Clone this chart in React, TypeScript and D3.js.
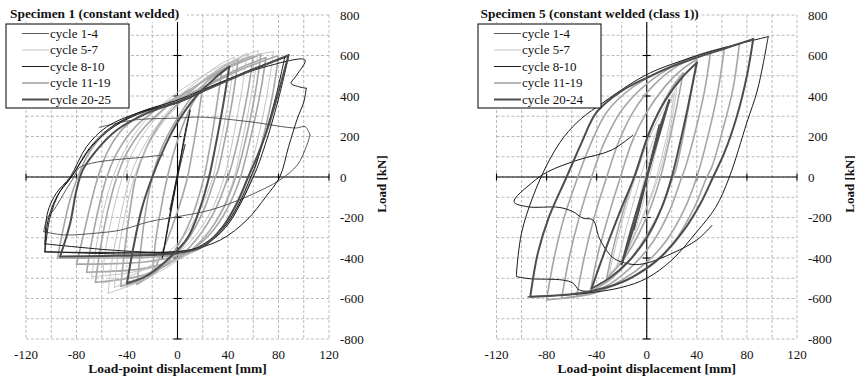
import * as d3 from "d3";

type Pt = [number, number];

// axis ticks and gridlines (mm / kN)
const X_TICKS = [-120, -80, -40, 0, 40, 80, 120];
const Y_TICKS = [-800, -600, -400, -200, 0, 200, 400, 600, 800];
const X_GRID = [-120, -100, -80, -60, -40, -20, 0, 20, 40, 60, 80, 100, 120];
const Y_GRID = [-800, -700, -600, -500, -400, -300, -200, -100, 0, 100, 200, 300, 400, 500, 600, 700, 800];

const LABELS_S1 = ["cycle 1-4", "cycle 5-7", "cycle 8-10", "cycle 11-19", "cycle 20-25"];
const LABELS_S5 = ["cycle 1-4", "cycle 5-7", "cycle 8-10", "cycle 11-19", "cycle 20-24"];

// ---- Specimen 1 (constant welded) ----
const S1_CYC_1_4: Pt[][] = [
  [[-106, -270], [-90, -286], [-64, -277], [-45, -262], [-22, -220], [0, -196], [26, -163], [55, -97], [81, -15], [95, 60], [102, 150], [105, 207], [101, 249], [94, 242], [57, 273], [18, 296], [0, 291], [-35, 281], [-62, 245]],
  [[-106, -270], [-103, -200], [-98, -163], [-88, -60], [-82, 0], [-78, 45], [-68, 68], [-50, 85], [-30, 96], [-11, 109]],
  [[-6, -160], [-2, -50], [2, 60], [6, 160], [3, 80], [-1, -30], [-6, -160]],
];
const S1_CYC_5_7: Pt[][] = [
  [[-55, -574], [-52, -420], [-47, -250], [-41, -80], [-34, 60], [-22, 200], [-8, 320], [10, 430], [30, 520], [50, 590], [64, 624], [61, 500], [56, 320], [50, 140], [45, 0], [36, -150], [22, -290], [5, -390], [-15, -470], [-35, -530], [-55, -574]],
  [[-68, -492], [-64, -330], [-58, -150], [-51, 0], [-42, 130], [-28, 260], [-10, 370], [10, 460], [35, 550], [60, 600], [76, 619], [73, 490], [68, 310], [61, 120], [56, 0], [47, -140], [32, -270], [12, -370], [-10, -430], [-40, -475], [-68, -492]],
  [[-50, -545], [-47, -380], [-42, -200], [-36, -40], [-28, 100], [-15, 240], [0, 350], [20, 470], [40, 560], [55, 611], [52, 470], [47, 290], [41, 100], [37, 0], [28, -150], [14, -290], [-2, -390], [-25, -480], [-50, -545]],
  [[-60, -525], [-57, -360], [-51, -170], [-44, -10], [-34, 140], [-20, 270], [-4, 370], [15, 470], [32, 550], [45, 592], [42, 440], [37, 260], [31, 80], [28, 0], [18, -160], [4, -300], [-15, -410], [-38, -490], [-60, -525]],
];
const S1_CYC_8_10: Pt[][] = [
  [[-105, -370], [-103, -178], [-96, -80], [-85, 0], [-72, 150], [-56, 248], [-32, 315], [0, 372], [30, 455], [60, 535], [85, 592], [78, 400], [70, 220], [62, 60], [58, 0], [48, -140], [35, -260], [15, -350], [0, -368], [-40, -372], [-80, -372], [-105, -370]],
  [[-105, -330], [-102, -200], [-95, -90], [-84, 0], [-70, 140], [-54, 240], [-30, 320], [0, 380], [35, 470], [70, 545], [101, 578], [94, 500], [90, 462], [96, 446], [102, 438], [100, 370], [95, 290], [88, 150], [81, 0], [70, -97], [55, -212], [34, -311], [10, -360], [-10, -372], [-50, -362], [-105, -330]],
  [[-105, -369], [-101, -200], [-93, -70], [-83, 10], [-68, 150], [-50, 250], [-25, 325], [0, 365], [30, 450], [60, 530], [88, 597], [81, 410], [73, 230], [64, 60], [60, 0], [50, -130], [38, -250], [20, -340], [0, -372], [-40, -380], [-105, -369]],
  [[-12, -400], [-6, -200], [0, 0], [6, 220], [10, 330], [6, 200], [0, 20], [-6, -180], [-12, -400]],
];
const S1_CYC_11_19: Pt[][] = [
  [[-80, -430], [-75, -300], [-69, -140], [-63, 0], [-55, 130], [-43, 240], [-25, 320], [0, 380], [25, 460], [50, 540], [70, 590], [66, 430], [60, 250], [53, 70], [50, 0], [40, -150], [26, -280], [8, -370], [-20, -415], [-50, -428], [-80, -430]],
  [[-95, -400], [-91, -270], [-85, -110], [-79, 0], [-70, 120], [-55, 230], [-35, 305], [-10, 360], [20, 440], [50, 530], [80, 600], [76, 430], [70, 250], [63, 80], [59, 0], [48, -150], [33, -280], [12, -370], [-20, -395], [-60, -400], [-95, -400]],
  [[-72, -470], [-68, -320], [-62, -140], [-56, 0], [-47, 130], [-33, 250], [-14, 345], [8, 425], [35, 525], [66, 605], [62, 430], [56, 240], [49, 60], [46, 0], [36, -160], [21, -300], [3, -395], [-25, -450], [-72, -470]],
  [[-65, -520], [-61, -350], [-55, -160], [-48, 0], [-40, 120], [-27, 240], [-10, 340], [10, 430], [35, 530], [60, 600], [56, 430], [50, 240], [43, 60], [40, 0], [30, -160], [16, -300], [0, -400], [-25, -480], [-65, -520]],
  [[-45, -540], [-42, -370], [-38, -180], [-33, 0], [-25, 140], [-13, 270], [0, 360], [15, 450], [35, 540], [48, 580], [44, 400], [38, 200], [32, 30], [30, 0], [21, -160], [8, -310], [-8, -420], [-25, -500], [-45, -540]],
  [[-32, -530], [-29, -350], [-25, -160], [-20, 0], [-12, 150], [0, 290], [12, 400], [25, 480], [35, 520], [31, 350], [26, 160], [21, 0], [13, -170], [2, -320], [-12, -440], [-32, -530]],
  [[-20, -480], [-17, -300], [-12, -120], [-8, 0], [0, 180], [10, 340], [20, 450], [16, 280], [11, 100], [8, 0], [0, -170], [-10, -340], [-20, -480]],
];
const S1_CYC_20_25: Pt[][] = [
  [[-93, -393], [-85, -228], [-80, -64], [-75, 35], [-64, 133], [-48, 232], [-24, 315], [0, 370], [30, 450], [60, 530], [88, 602], [80, 420], [71, 232], [63, 100], [56, 0], [47, -130], [36, -245], [20, -344], [0, -376], [-20, -385], [-60, -390], [-93, -393]],
  [[-40, -525], [-35, -350], [-28, -150], [-20, 0], [-10, 150], [0, 270], [15, 400], [30, 490], [41, 545], [36, 350], [30, 150], [25, 0], [18, -150], [8, -300], [-10, -420], [-25, -490], [-40, -525]],
];

// ---- Specimen 5 (constant welded (class 1)) ----
const S5_CYC_1_4: Pt[][] = [
  [[-6, -150], [-2, -50], [2, 50], [6, 150], [3, 70], [-1, -30], [-6, -150]],
  [[-10, -260], [-5, -120], [0, 0], [5, 130], [10, 260], [6, 150], [1, 20], [-4, -110], [-10, -260]],
];
const S5_CYC_5_7: Pt[][] = [
  [[-16, -380], [-10, -220], [-4, -60], [2, 80], [8, 210], [14, 320], [10, 200], [5, 70], [-1, -80], [-8, -240], [-16, -380]],
  [[-24, -440], [-18, -290], [-10, -110], [-3, 40], [5, 180], [14, 310], [22, 410], [18, 260], [12, 100], [5, -60], [-5, -220], [-15, -350], [-24, -440]],
  [[-30, -480], [-24, -320], [-16, -140], [-8, 20], [2, 190], [12, 320], [24, 440], [20, 280], [14, 110], [6, -60], [-6, -240], [-18, -390], [-30, -480]],
];
const S5_CYC_8_10: Pt[][] = [
  [[-104, -492], [-104, -474], [-100, -277], [-91, -99], [-79, 69], [-66, 199], [-52, 290], [-36, 362], [-18, 440], [3, 515], [25, 568], [50, 618], [75, 660], [97, 693], [93, 560], [88, 420], [80, 270], [66, 0], [55, -150], [40, -270], [20, -410], [0, -500], [-20, -545], [-50, -575], [-80, -588], [-95, -592]],
  [[-104, -492], [-94, -502], [-67, -509], [-59, -524], [-54, -558], [-45, -565]],
  [[-11, 207], [-28, 133], [-55, 84], [-79, 26], [-92, -30], [-106, -122], [-95, -147], [-70, -150], [-59, -171], [-51, -203], [-43, -212], [-38, -300], [-30, -380], [-24, -410], [-11, -432], [0, -425], [21, -375], [40, -311], [52, -240]],
];
const S5_CYC_11_19: Pt[][] = [
  [[-32, -500], [-26, -330], [-18, -150], [-10, 0], [0, 180], [10, 330], [20, 440], [29, 513], [24, 350], [18, 180], [11, 0], [3, -150], [-8, -300], [-20, -420], [-32, -500]],
  [[-45, -565], [-39, -380], [-30, -180], [-21, 0], [-12, 170], [0, 320], [15, 450], [28, 530], [40, 580], [35, 400], [29, 200], [23, 30], [21, 0], [12, -150], [0, -290], [-15, -420], [-30, -510], [-45, -565]],
  [[-56, -590], [-50, -400], [-42, -200], [-32, 0], [-22, 180], [-10, 330], [5, 450], [25, 550], [51, 619], [46, 420], [39, 230], [31, 50], [28, 0], [18, -170], [5, -320], [-10, -430], [-30, -530], [-56, -590]],
  [[-68, -600], [-62, -400], [-54, -200], [-44, 0], [-34, 170], [-20, 330], [0, 460], [25, 560], [45, 610], [62, 636], [57, 430], [50, 230], [40, 0], [30, -160], [15, -320], [0, -420], [-20, -510], [-40, -570], [-68, -600]],
  [[-80, -607], [-74, -400], [-66, -200], [-55, 0], [-45, 160], [-32, 320], [-12, 440], [10, 520], [40, 600], [74, 657], [69, 440], [61, 240], [52, 50], [48, 0], [38, -150], [22, -320], [5, -430], [-20, -520], [-50, -580], [-80, -607]],
];
const S5_CYC_20_24: Pt[][] = [
  [[-93, -591], [-87, -376], [-78, -196], [-64, 0], [-52, 170], [-40, 320], [-20, 425], [0, 490], [20, 545], [40, 590], [60, 630], [85, 681], [80, 500], [72, 300], [62, 120], [53, 0], [43, -130], [30, -260], [12, -390], [0, -450], [-20, -520], [-50, -570], [-93, -591]],
  [[-44, -550], [-34, -375], [-20, -150], [-10, 0], [2, 220], [15, 380], [28, 490], [40, 564], [33, 350], [27, 180], [20, 0], [12, -150], [0, -300], [-15, -420], [-30, -500], [-44, -550]],
  [[-20, -430], [-12, -250], [0, 0], [10, 230], [18, 380], [12, 250], [2, 40], [-8, -200], [-20, -430]],
];

const SERIES_S1 = [S1_CYC_1_4, S1_CYC_5_7, S1_CYC_8_10, S1_CYC_11_19, S1_CYC_20_25];
const SERIES_S5 = [S5_CYC_1_4, S5_CYC_5_7, S5_CYC_8_10, S5_CYC_11_19, S5_CYC_20_24];

// one style per legend entry, same for both panels
const STYLE = [
  { color: "#474747", width: 0.9 },
  { color: "#bdbdbd", width: 0.9 },
  { color: "#1a1a1a", width: 1 },
  { color: "#a6a6a6", width: 1.6 },
  { color: "#4d4d4d", width: 2 },
];
const DRAW_ORDER = [3, 1, 0, 2, 4];

const FONT = "Liberation Serif, Tinos, DejaVu Serif, serif";
const TOP = 15;
const BOTTOM = 339;

// a loop turns sharply at its positive peak, so draw the two branches apart
function branches(loop: Pt[]): Pt[][] {
  const i = d3.maxIndex(loop, (d) => d[0]);
  if (i <= 0 || i >= loop.length - 1) return [loop];
  return [loop.slice(0, i + 1), loop.slice(i)];
}

interface PanelProps {
  left: number;
  right: number;
  title: string;
  titleW: number;
  legendX: number;
  labels: string[];
  series: Pt[][][];
}

function Panel({ left, right, title, titleW, legendX, labels, series }: PanelProps) {
  const x = d3.scaleLinear().domain([-120, 120]).range([left, right]);
  const y = d3.scaleLinear().domain([-800, 800]).range([BOTTOM, TOP]);
  const line = d3
    .line<Pt>()
    .x((d) => x(d[0]))
    .y((d) => y(d[1]))
    .curve(d3.curveCatmullRom.alpha(0.5));

  const x0 = x(0);
  const y0 = y(0);
  const titleX = left - 16;

  return (
    <g>
      {/* dashed grid */}
      <g stroke="#a8a8a8" strokeWidth={0.8} strokeDasharray="3 2">
        {X_GRID.map((v) => (
          <line key={"gx" + v} x1={x(v)} x2={x(v)} y1={TOP} y2={BOTTOM} />
        ))}
        {Y_GRID.map((v) => (
          <line key={"gy" + v} x1={left} x2={right} y1={y(v)} y2={y(v)} />
        ))}
      </g>

      {/* axes through the origin */}
      <g stroke="#000" strokeWidth={1.1}>
        <line x1={left} x2={right} y1={y0} y2={y0} />
        <line x1={x0} x2={x0} y1={TOP} y2={BOTTOM} />
        {X_TICKS.filter((v) => v !== 0).map((v) => (
          <line key={"tx" + v} x1={x(v)} x2={x(v)} y1={y0 - 3.5} y2={y0 + 3.5} />
        ))}
        {Y_TICKS.filter((v) => v !== 0).map((v) => (
          <line key={"ty" + v} x1={x0 - 4} x2={x0 + 4} y1={y(v)} y2={y(v)} />
        ))}
      </g>

      {/* hysteresis loops */}
      <g fill="none" strokeLinejoin="round" strokeLinecap="round">
        {DRAW_ORDER.map((si) =>
          series[si].flatMap((loop, li) =>
            branches(loop).map((b, bi) => (
              <path
                key={si + "-" + li + "-" + bi}
                d={line(b) ?? ""}
                stroke={STYLE[si].color}
                strokeWidth={STYLE[si].width}
              />
            ))
          )
        )}
      </g>

      {/* tick labels */}
      <g fontFamily={FONT} fontSize={13} fill="#111">
        {Y_TICKS.map((v) => (
          <text key={"ly" + v} x={right + 11} y={y(v)} dy="0.35em">
            {String(v)}
          </text>
        ))}
        {X_TICKS.map((v) => (
          <text key={"lx" + v} x={x(v)} y={359} textAnchor="middle">
            {String(v)}
          </text>
        ))}
      </g>

      {/* axis titles */}
      <text
        x={x0}
        y={373}
        textAnchor="middle"
        fontFamily={FONT}
        fontSize={13.5}
        fontWeight="bold"
        fill="#111"
      >
        Load-point displacement [mm]
      </text>
      <text
        transform={`translate(${right + 56.5},184) rotate(-90)`}
        textAnchor="middle"
        fontFamily={FONT}
        fontSize={13}
        fontWeight="bold"
        fill="#111"
      >
        Load [kN]
      </text>

      {/* panel title on a white patch */}
      <rect x={titleX - 2} y={6} width={titleW + 5} height={16} fill="#fff" />
      <text x={titleX} y={17.5} fontFamily={FONT} fontSize={13.4} fontWeight="bold" fill="#111">
        {title}
      </text>

      {/* legend */}
      <g>
        <rect x={legendX} y={24} width={123} height={84} fill="#fff" stroke="#000" strokeWidth={1} />
        {labels.map((lab, i) => {
          const cy = 33.5 + i * 16.5;
          return (
            <g key={lab}>
              <line
                x1={legendX + 16}
                x2={legendX + 43}
                y1={cy}
                y2={cy}
                stroke={STYLE[i].color}
                strokeWidth={STYLE[i].width}
              />
              <text x={legendX + 44} y={cy} dy="0.33em" fontFamily={FONT} fontSize={13} fill="#111">
                {lab}
              </text>
            </g>
          );
        })}
      </g>
    </g>
  );
}

export default function App() {
  return (
    <svg
      width={855}
      height={378}
      style={{ position: "absolute", left: 0, top: 0, background: "#fff" }}
    >
      <rect width={855} height={378} fill="#fff" />
      <Panel
        left={26}
        right={329}
        title="Specimen 1 (constant welded)"
        titleW={174}
        legendX={6}
        labels={LABELS_S1}
        series={SERIES_S1}
      />
      <Panel
        left={496.5}
        right={797}
        title="Specimen 5 (constant welded (class 1))"
        titleW={218}
        legendX={478}
        labels={LABELS_S5}
        series={SERIES_S5}
      />
    </svg>
  );
}
